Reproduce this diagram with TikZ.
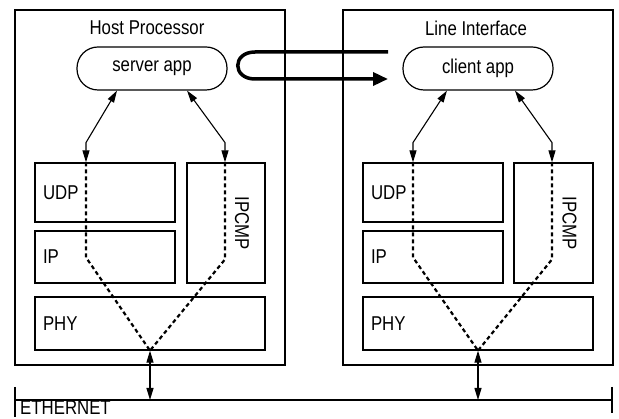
\documentclass[tikz,border=0pt]{standalone}
\usepackage{fontspec}
\setmainfont[FakeStretch=0.84]{Liberation Sans}
\usetikzlibrary{arrows.meta}

\begin{document}
\begin{tikzpicture}[x=1pt, y=-1pt,
    font=\fontsize{20}{22}\selectfont,
    unit/.style={draw, line width=1.2pt, minimum width=270pt, minimum height=355pt, inner sep=0pt},
    app/.style={draw, line width=1.2pt, rounded corners=21pt, minimum width=150pt, minimum height=43pt, inner sep=0pt},
    layer/.style={draw, line width=1.2pt, inner ysep=0pt, inner xsep=8pt, align=left},
    biarrow/.style={{Triangle[length=12pt,width=7pt]}-{Triangle[length=12pt,width=7pt]}, line width=1.1pt},
    trace/.style={line width=2.2pt, dash pattern=on 4pt off 3pt},
    rpcarrow/.style={line width=3.5pt, -{Triangle[length=15pt,width=13pt]}},
    bus/.style={line width=1.2pt}]
    \useasboundingbox (0,0) rectangle (619,419);

    % host side
    \node[unit] (hostA) at (150,187.5) {};
    \node (hostT) at (147,28) {Host Processor};
    \node[app] (srvA) at (152,68.5) {server app};
    \node[layer, text width=124pt, minimum height=59pt] (udpA) at (105,192.5) {UDP};
    \node[layer, text width=124pt, minimum height=52pt] (ipA) at (105,257) {IP};
    \node[layer, text width=214pt, minimum height=53pt] (phyA) at (150,323.5) {PHY};
    \node[layer, minimum width=78pt, minimum height=120pt] (ipcmpA) at (226,223) {};
    \node[rotate=-90] (ipcmpAt) at ([xshift=16pt]ipcmpA.center) {IPCMP};

    % line interface side
    \node[unit] (lineB) at (478,187.5) {};
    \node (lineT) at (476,28) {Line Interface};
    \node[app] (cliB) at (478,68.5) {client app};
    \node[layer, text width=124pt, minimum height=59pt] (udpB) at (433,192.5) {UDP};
    \node[layer, text width=124pt, minimum height=52pt] (ipB) at (433,257) {IP};
    \node[layer, text width=214pt, minimum height=53pt] (phyB) at (478,323.5) {PHY};
    \node[layer, minimum width=79pt, minimum height=120pt] (ipcmpB) at (553.5,223) {};
    \node[rotate=-90] (ipcmpBt) at ([xshift=16pt]ipcmpB.center) {IPCMP};

    % app to stack
    \draw[biarrow] ([xshift=-35pt]srvA.south) -- ++(-31,52) -- ([xshift=-19pt]udpA.north);
    \draw[biarrow] ([xshift=35pt]srvA.south) -- ++(38,52) -- ([xshift=-1pt]ipcmpA.north);
    \draw[biarrow] ([xshift=-31pt]cliB.south) -- ++(-34,52) -- ([xshift=-20pt]udpB.north);
    \draw[biarrow] ([xshift=37pt]cliB.south) -- ++(37,52) -- ([xshift=-1.5pt]ipcmpB.north);

    % traces through the stack
    \draw[trace] ([xshift=-19pt]udpA.north) -- ++(0,95) -- (phyA.south);
    \draw[trace] ([xshift=-1pt]ipcmpA.north) -- ++(0,97) -- (phyA.south);
    \draw[trace] ([xshift=-20pt]udpB.north) -- ++(0,95) -- (phyB.south);
    \draw[trace] ([xshift=-1.5pt]ipcmpB.north) -- ++(0,97) -- (phyB.south);

    % ethernet
    \coordinate (etherL) at (15,400);
    \coordinate (etherR) at (612,400);
    \draw[bus] (etherL) -- (etherR);
    \draw[bus] ([yshift=13pt]etherL) -- ([yshift=-17pt]etherL);
    \draw[bus] ([yshift=13pt]etherR) -- ([yshift=-13pt]etherR);
    \node[anchor=base west, inner sep=0pt] (etherT) at (20,415) {ETHERNET};
    \draw[biarrow] (phyA.south) -- (phyA.south |- etherL);
    \draw[biarrow] (phyB.south) -- (phyB.south |- etherR);

    % call loop
    \coordinate (loopIn) at (388,52);
    \coordinate (loopOut) at (388,79);
    \draw[rpcarrow] (loopIn) -- (255,52) .. controls (232,52) and (232,79) .. (255,79) -- (loopOut);
\end{tikzpicture}
\end{document}
